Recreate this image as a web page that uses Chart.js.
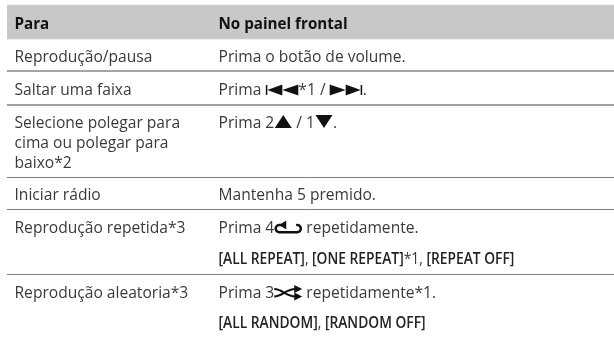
<!DOCTYPE html>
<html lang="pt">
<head>
<meta charset="utf-8">
<title>Para / No painel frontal</title>
<script src="https://cdn.jsdelivr.net/npm/chart.js@4"></script>
<style>
  html, body { margin: 0; padding: 0; background: #fff; }
  canvas { display: block; }
</style>
</head>
<body>
<canvas id="table" width="614" height="337"></canvas>
<script>
// Texts of the table. {name} is an icon, [..] parts use the narrow bold face
const headers = ['Para', 'No painel frontal'];
const actions = [
  ['Reprodução/pausa'],
  ['Saltar uma faixa'],
  ['Selecione polegar para', 'cima ou polegar para', 'baixo*2'],
  ['Iniciar rádio'],
  ['Reprodução repetida*3'],
  ['Reprodução aleatoria*3']
];
const panel = [
  ['Prima o botão de volume.'],
  ['Prima {prev}*1 / {next}.'],
  ['Prima 2{up} / 1{down}.'],
  ['Mantenha 5 premido.'],
  ['Prima 4{repeat} repetidamente.', '[ALL REPEAT], [ONE REPEAT]*1, [REPEAT OFF]'],
  ['Prima 3{shuffle} repetidamente*1.', '[ALL RANDOM], [RANDOM OFF]']
];

// Layout, in picture pixels (the y scale runs 0..337 from the top)
const bandRange = [5, 39];
const ruleLines = [71, 105, 177, 209, 274];
const ruleWidths = [2, 2, 1, 1, 1];
const ruleColors = ['#a4a4a4', '#a0a0a0', '#7c7c7c', '#7c7c7c', '#7c7c7c'];
const firstBaseline = [62, 95, 128, 200, 233, 298];
const secondLine = [0, 0, 0, 0, 264, 328];
const lineStep = 20;
const colX = [14.5, 218.5];
const textColor = '#3a3a3a';
const bodyFont = '15.6px "Open Sans"';
const headFont = 'bold 16.5px "Open Sans"';
const tagFont = '600 15.5px "Open Sans"';
const headSqueeze = 0.92;
const tagSqueeze = 0.89;

function triangle(c, x1, y1, x2, y2, x3, y3) {
  c.beginPath();
  c.moveTo(x1, y1);
  c.lineTo(x2, y2);
  c.lineTo(x3, y3);
  c.closePath();
  c.fill();
}

// Icons are drawn from the baseline, each returns its advance
const icons = {
  prev(c, x, y) {
    c.fillRect(x + 0.5, y - 10, 1.5, 10);
    triangle(c, x + 2, y - 5, x + 17, y - 10.5, x + 17, y + 0.5);
    triangle(c, x + 17, y - 5, x + 33, y - 10.5, x + 33, y + 0.5);
    return 33;
  },
  next(c, x, y) {
    triangle(c, x, y - 10.5, x + 16, y - 5, x, y + 0.5);
    triangle(c, x + 16, y - 10.5, x + 31, y - 5, x + 16, y + 0.5);
    c.fillRect(x + 31, y - 10, 1.5, 10);
    return 33;
  },
  up(c, x, y) {
    triangle(c, x + 0.5, y, x + 9, y - 13, x + 17.5, y);
    return 18;
  },
  down(c, x, y) {
    triangle(c, x + 0.5, y - 13, x + 9, y, x + 17.5, y - 13);
    return 18;
  },
  repeat(c, x, y) {
    c.save();
    c.lineWidth = 2.5;
    c.strokeStyle = '#111';
    c.beginPath();
    c.moveTo(x + 8, y - 8);
    c.lineTo(x + 5, y - 8);
    c.arc(x + 5, y - 4.4, 3.6, -Math.PI / 2, Math.PI / 2, true);
    c.lineTo(x + 23, y - 0.8);
    c.arc(x + 23, y - 4.4, 3.6, Math.PI / 2, -Math.PI * 0.6, true);
    c.stroke();
    c.restore();
    triangle(c, x + 5, y - 8, x + 12, y - 12.5, x + 12, y - 3.5);
    return 28;
  },
  shuffle(c, x, y) {
    c.save();
    c.lineWidth = 2.2;
    c.strokeStyle = '#111';
    c.beginPath();
    c.moveTo(x, y - 9);
    c.bezierCurveTo(x + 8, y - 9, x + 12, y - 1.5, x + 21, y - 1.5);
    c.moveTo(x, y - 1.5);
    c.bezierCurveTo(x + 8, y - 1.5, x + 12, y - 9, x + 21, y - 9);
    c.stroke();
    c.restore();
    triangle(c, x + 20, y - 13, x + 28, y - 9, x + 20, y - 5);
    triangle(c, x + 20, y - 5.5, x + 28, y - 1.5, x + 20, y + 2.5);
    return 28;
  }
};

function squeezedText(c, text, x, y, sx) {
  c.save();
  c.translate(x, y);
  c.scale(sx, 1);
  c.fillText(text, 0, 0);
  c.restore();
  return c.measureText(text).width * sx;
}

// Writes one line, switching font at icons and [..] tags
function writeLine(c, line, x, y) {
  const tagLine = line[0] === '[';
  const parts = line.split(/(\{\w+\}|\[[^\]]*\])/).filter(Boolean);
  parts.forEach(part => {
    if (part[0] === '{') {
      c.fillStyle = '#111';
      x += icons[part.slice(1, -1)](c, x, y);
      return;
    }
    const tag = part[0] === '[';
    c.font = tag ? tagFont : bodyFont;
    c.fillStyle = tag ? '#222' : textColor;
    x += squeezedText(c, part, x, y, tagLine ? tagSqueeze : 1);
  });
}

const tableText = {
  id: 'tableText',
  afterDatasetsDraw(chart) {
    const c = chart.ctx;
    const y = chart.scales.y;
    c.save();
    c.textBaseline = 'alphabetic';
    c.font = headFont;
    c.fillStyle = '#111';
    headers.forEach((h, i) => squeezedText(c, h, colX[i], y.getPixelForValue(29), headSqueeze));
    actions.forEach((lines, row) => {
      lines.forEach((line, i) => {
        writeLine(c, line, colX[0], y.getPixelForValue(firstBaseline[row] + i * lineStep));
      });
    });
    panel.forEach((lines, row) => {
      lines.forEach((line, i) => {
        const v = i === 0 ? firstBaseline[row] : secondLine[row];
        writeLine(c, line, colX[1], y.getPixelForValue(v));
      });
    });
    c.restore();
  }
};

new Chart(document.getElementById('table'), {
  type: 'bar',
  plugins: [tableText],
  data: {
    labels: [''],
    datasets: [{
      data: [bandRange],
      backgroundColor: '#c8c8c8',
      borderWidth: 0,
      barPercentage: 1,
      categoryPercentage: 1
    }]
  },
  options: {
    responsive: false,
    animation: false,
    layout: { padding: { left: 7 } },
    plugins: { legend: { display: false }, tooltip: { enabled: false } },
    scales: {
      x: { display: false },
      y: {
        reverse: true,
        min: 0,
        max: 337,
        afterBuildTicks(axis) {
          axis.ticks = ruleLines.map(value => ({ value }));
        },
        ticks: { display: false },
        border: { display: false },
        grid: {
          drawTicks: false,
          color: ctx => ruleColors[ctx.index],
          lineWidth: ctx => ruleWidths[ctx.index]
        }
      }
    }
  }
});
</script>
</body>
</html>
